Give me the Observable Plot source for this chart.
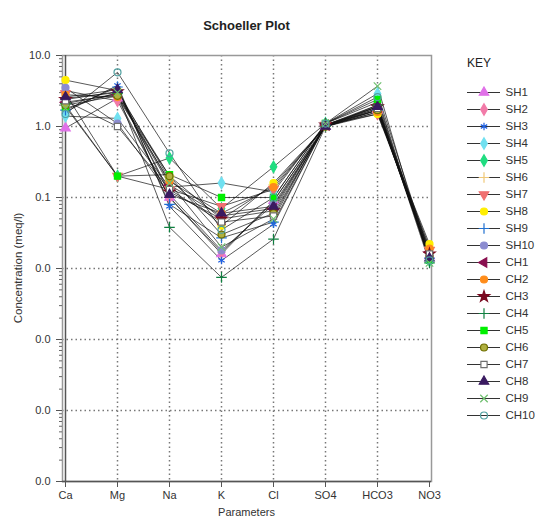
<!DOCTYPE html>
<html>
<head>
<meta charset="utf-8">
<script src="https://cdn.jsdelivr.net/npm/d3@7"></script>
<script src="https://cdn.jsdelivr.net/npm/@observablehq/plot@0.6"></script>
<style>
  body { margin: 0; background: white; font-family: "Liberation Sans", Arial, sans-serif; }
  #wrap { position: relative; width: 535px; height: 520px; overflow: hidden; }
  #wrap > * { position: absolute; }
  .title { left: 62px; width: 369px; top: 18px; text-align: center; font-weight: bold; font-size: 13px; color: #222; }
  .ylab { left: 18px; top: 268px; transform: translate(-50%, -50%) rotate(-90deg); white-space: nowrap; font-size: 11.5px; color: #333; }
  .xlab { left: 62px; width: 369px; top: 506px; text-align: center; font-size: 11px; color: #333; }
  .key { left: 467px; top: 56px; font-size: 12px; color: #222; }
</style>
</head>
<body>
<div id="wrap">
  <div class="title">Schoeller Plot</div>
  <div class="ylab">Concentration (meq/l)</div>
  <div class="xlab">Parameters</div>
  <div class="key">KEY</div>
</div>
<script>
const categories = ["Ca", "Mg", "Na", "K", "Cl", "SO4", "HCO3", "NO3"];
const yTicks = [0.00001, 0.0001, 0.001, 0.01, 0.1, 1, 10];

const seriesNames = ["SH1","SH2","SH3","SH4","SH5","SH6","SH7","SH8","SH9","SH10",
                     "CH1","CH2","CH3","CH4","CH5","CH6","CH7","CH8","CH9","CH10"];
const seriesFill = ["#e070e8","#f27aa8","#1f5fe0","#70e0f0","#20dd80","#f0c878","#f07070","#ffee00","#2070d0","#8c8cd0",
                    "#8a1050","#ff8c1a","#7a0a20","#0f8040","#00f000","#b0b040","white","#3a1a60","#90d890","none"];
const seriesStroke = ["#e070e8","#f27aa8","#1f5fe0","#70e0f0","#20dd80","#f0c878","#f07070","#ffee00","#2070d0","#8c8cd0",
                      "#8a1050","#ff8c1a","#7a0a20","#0f8040","#00f000","#707000","#707070","#3a1a60","#70c070","#50a0a0"];
const seriesSymbols = ["triangle","diamond","asterisk","diamond","diamond","plus","triangle","circle","plus","circle",
                       "triangle","circle","star","plus","square","circle","square","triangle","times","circle"];
const seriesRotate = [0,0,0,0,0,0,180,0,0,0, -90,0,0,0,0,0,0,0,0,0];

//            Ca    Mg    Na     K       Cl     SO4   HCO3  NO3
const SH1  = [0.95, 2.5,  0.10,  0.016,  0.090, 1.00, 1.7,  0.015];
const SH2  = [3.2,  2.3,  0.10,  0.017,  0.088, 1.05, 1.7,  0.015];
const SH3  = [1.6,  3.8,  0.075, 0.013,  0.042, 1.05, 1.9,  0.014];
const SH4  = [1.4,  1.3,  0.14,  0.16,   0.12,  1.10, 2.9,  0.016];
const SH5  = [2.0,  0.20, 0.36,  0.070,  0.27,  1.10, 2.2,  0.013];
const SH6  = [2.5,  3.0,  0.20,  0.050,  0.15,  1.00, 1.6,  0.020];
const SH7  = [2.9,  0.20, 0.13,  0.075,  0.13,  1.05, 1.5,  0.018];
const SH8  = [4.5,  3.2,  0.18,  0.040,  0.16,  1.00, 1.5,  0.022];
const SH9  = [1.7,  3.6,  0.080, 0.027,  0.045, 1.05, 1.7,  0.014];
const SH10 = [3.5,  1.1,  0.11,  0.018,  0.080, 1.00, 1.8,  0.015];
const CH1  = [2.2,  2.8,  0.15,  0.055,  0.070, 1.05, 2.0,  0.017];
const CH2  = [2.8,  2.6,  0.17,  0.060,  0.14,  1.00, 1.6,  0.019];
const CH3  = [2.4,  3.1,  0.12,  0.050,  0.065, 1.05, 1.9,  0.016];
const CH4  = [2.1,  2.9,  0.038, 0.0075, 0.026, 1.00, 2.0,  0.012];
const CH5  = [1.9,  0.20, 0.21,  0.10,   0.10,  1.10, 2.4,  0.013];
const CH6  = [2.0,  2.7,  0.20,  0.030,  0.060, 1.00, 1.7,  0.015];
const CH7  = [2.3,  1.0,  0.13,  0.045,  0.055, 1.05, 1.8,  0.016];
const CH8  = [2.6,  3.3,  0.11,  0.060,  0.075, 1.00, 1.9,  0.014];
const CH9  = [1.8,  3.0,  0.16,  0.020,  0.050, 1.10, 3.7,  0.012];
const CH10 = [1.5,  5.8,  0.42,  0.035,  0.10,  1.10, 2.6,  0.013];
const seriesValues = [SH1,SH2,SH3,SH4,SH5,SH6,SH7,SH8,SH9,SH10,CH1,CH2,CH3,CH4,CH5,CH6,CH7,CH8,CH9,CH10];

const rows = [];
seriesNames.forEach((name, i) => {
  seriesValues[i].forEach((v, j) => {
    rows.push({series: name, param: categories[j], value: v,
               fill: seriesFill[i], stroke: seriesStroke[i], symbol: seriesSymbols[i], rotate: seriesRotate[i]});
  });
});
const legendRows = seriesNames.map((name, i) => ({series: name, fill: seriesFill[i], stroke: seriesStroke[i],
  symbol: seriesSymbols[i], rotate: seriesRotate[i]}));

const minorTicks = [];
for (let e = -5; e < 1; e++) for (let m = 2; m <= 9; m++) minorTicks.push(m * Math.pow(10, e));

const font = {fontFamily: "'Liberation Sans', Arial, sans-serif", fontSize: "11px", color: "#333", background: "white", overflow: "visible"};

const chart = Plot.plot({
  width: 535, height: 520,
  marginLeft: 62, marginRight: 104, marginTop: 55, marginBottom: 39,
  style: font,
  x: {type: "point", domain: categories, padding: 0},
  y: {type: "log", domain: [0.00001, 10]},
  marks: [
    Plot.gridX(categories.slice(1, -1), {stroke: "#777", strokeOpacity: 1, strokeWidth: 1.5, strokeDasharray: "1.5,3"}),
    Plot.gridY(yTicks.slice(1, -1), {stroke: "#777", strokeOpacity: 1, strokeWidth: 1.5, strokeDasharray: "1.5,3"}),
    Plot.frame({stroke: "#999", strokeWidth: 1.5}),
    Plot.ruleX([categories[0]], {stroke: "#555", strokeWidth: 1.5}),
    Plot.ruleY([0.00001], {stroke: "#555", strokeWidth: 1.5}),
    Plot.axisY(yTicks, {tickSize: 6, tickPadding: 6, tickFormat: d3.format(".1f"), label: null, stroke: "#555", fontSize: 11}),
    Plot.axisY(minorTicks, {tickSize: 3, tickFormat: () => "", label: null, stroke: "#666"}),
    Plot.axisX(categories, {tickSize: 6, tickPadding: 4, label: null, stroke: "#555", fontSize: 11}),
    Plot.line(rows, {x: "param", y: "value", z: "series", stroke: "#111", strokeWidth: 0.7}),
    Plot.dot(rows, {x: "param", y: "value", symbol: "symbol", fill: "fill", stroke: "stroke", rotate: "rotate", r: 3.5, strokeWidth: 1.2})
  ]
});
chart.style.left = "0px";
chart.style.top = "0px";
document.getElementById("wrap").prepend(chart);

const legend = Plot.plot({
  width: 80, height: 370,
  margin: 0,
  style: font,
  x: {domain: [0, 1], range: [12, 45]},
  y: {type: "point", domain: seriesNames, range: [18, 348], padding: 0},
  axis: null,
  marks: [
    Plot.ruleY(legendRows, {y: "series", x1: 0, x2: 1, stroke: "#333", strokeWidth: 1}),
    Plot.dot(legendRows, {x: 0.5, y: "series", symbol: "symbol", fill: "fill", stroke: "stroke", rotate: "rotate", r: 3.5, strokeWidth: 1.2}),
    Plot.text(legendRows, {x: 1, y: "series", text: "series", dx: 5, textAnchor: "start", fontSize: 11.5, fill: "#333"})
  ]
});
legend.style.left = "455px";
legend.style.top = "70px";
document.getElementById("wrap").appendChild(legend);
</script>
</body>
</html>
